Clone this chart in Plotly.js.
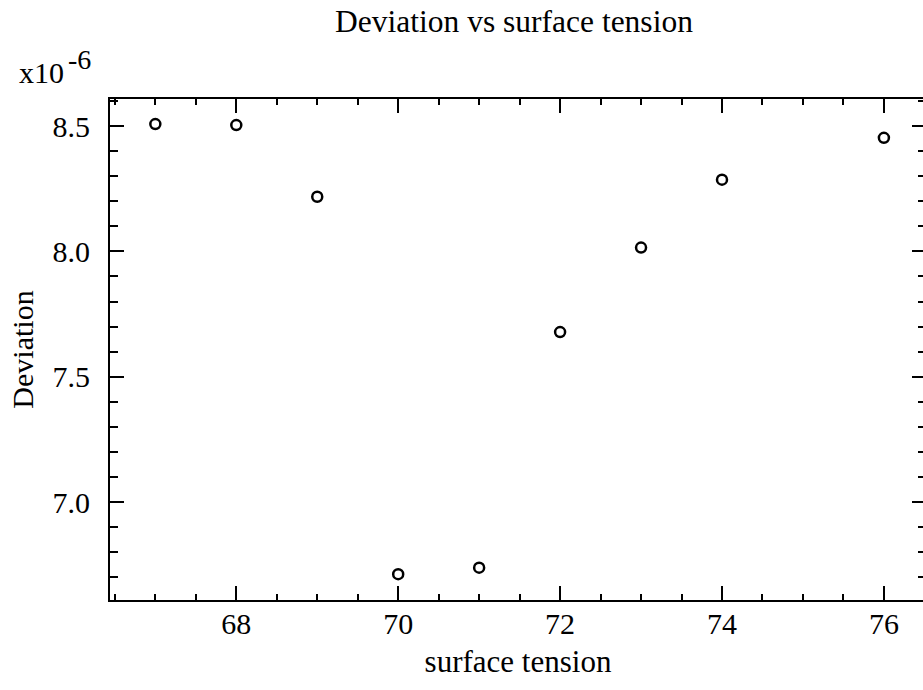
<!DOCTYPE html>
<html>
<head>
<meta charset="utf-8">
<script src="https://cdn.plot.ly/plotly-3.0.1.min.js"></script>
<style>
html,body{margin:0;padding:0;overflow:hidden;background:#fff;}
#chart{width:930px;height:690px;}
</style>
</head>
<body>
<div id="chart"></div>
<script>
// Data (Deviation in units of 1e-6)
const surfaceTension = [67, 68, 69, 70, 71, 72, 73, 74, 76];
const deviation = [8.508, 8.504, 8.218, 6.712, 6.738, 7.678, 8.015, 8.286, 8.453];
const xTickVals = [68, 70, 72, 74, 76];
const yTickVals = [7.0, 7.5, 8.0, 8.5];
const yTickText = ["7.0", "7.5", "8.0", "8.5"];

const font = "Liberation Serif, Times New Roman, serif";

const trace = {
  x: surfaceTension,
  y: deviation,
  type: "scatter",
  mode: "markers",
  marker: {symbol: "circle-open", size: 10, color: "#000", line: {width: 2.5, color: "#000"}},
  hoverinfo: "x+y"
};

const layout = {
  width: 930,
  height: 690,
  paper_bgcolor: "#fff",
  plot_bgcolor: "#fff",
  showlegend: false,
  margin: {l: 110, r: 4, t: 99, b: 90},
  title: {
    text: "Deviation vs surface tension",
    font: {family: font, size: 31.5, color: "#000"},
    x: 514 / 930, xanchor: "center",
    y: 1 - 21 / 690, yanchor: "middle"
  },
  xaxis: {
    range: [66.44, 76.52],
    tickmode: "array",
    tickvals: xTickVals,
    ticks: "inside",
    ticklen: 14,
    tickwidth: 2,
    tickcolor: "#000",
    minor: {dtick: 0.5, ticks: "inside", ticklen: 6, tickwidth: 2, tickcolor: "#000", showgrid: false},
    showline: true, linewidth: 2, linecolor: "#000",
    mirror: "ticks",
    showgrid: false, zeroline: false,
    tickfont: {family: font, size: 30, color: "#000"},
    ticklabelstandoff: -4,
    title: {text: "surface tension", font: {family: font, size: 31, color: "#000"}, standoff: 11}
  },
  yaxis: {
    range: [6.609, 8.608],
    tickmode: "array",
    tickvals: yTickVals,
    ticktext: yTickText,
    ticks: "inside",
    ticklen: 14,
    tickwidth: 2,
    tickcolor: "#000",
    minor: {dtick: 0.1, tick0: 7.0, ticks: "inside", ticklen: 8, tickwidth: 2, tickcolor: "#000", showgrid: false},
    showline: true, linewidth: 2, linecolor: "#000",
    mirror: "ticks",
    showgrid: false, zeroline: false,
    tickfont: {family: font, size: 30, color: "#000"},
    ticklabelstandoff: 12,
    title: {text: "Deviation", font: {family: font, size: 30, color: "#000"}, standoff: 10}
  },
  annotations: [
    {text: "x10", xref: "paper", yref: "paper", x: (18 - 110) / 816, y: (600 - 90) / 501,
     xanchor: "left", yanchor: "bottom", showarrow: false,
     font: {family: font, size: 30, color: "#000"}, borderpad: 0},
    {text: "-6", xref: "paper", yref: "paper", x: (67 - 110) / 816, y: (600 - 76) / 501,
     xanchor: "left", yanchor: "bottom", showarrow: false,
     font: {family: font, size: 28, color: "#000"}, borderpad: 0}
  ]
};

Plotly.newPlot("chart", [trace], layout, {displayModeBar: false});
</script>
</body>
</html>
